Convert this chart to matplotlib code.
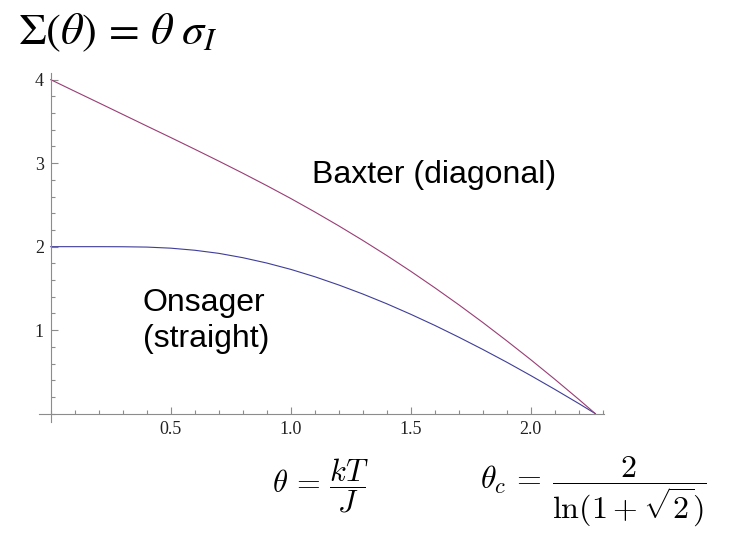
import matplotlib.pyplot as plt
from matplotlib.ticker import MultipleLocator

# values
theta = [0.0, 0.1, 0.2, 0.3, 0.4, 0.5, 0.6, 0.7, 0.8, 0.9, 1.0, 1.1,
         1.2, 1.3, 1.4, 1.5, 1.6, 1.7, 1.8, 1.9, 2.0, 2.1, 2.2, 2.269]
onsager = [2.0, 2.0, 2.0, 1.999, 1.995, 1.982, 1.957, 1.920, 1.868, 1.804,
           1.728, 1.640, 1.541, 1.433, 1.316, 1.190, 1.057, 0.916, 0.769,
           0.616, 0.456, 0.291, 0.121, 0.0]
baxter = [4.0, 3.861, 3.723, 3.584, 3.445, 3.307, 3.167, 3.025, 2.880,
          2.731, 2.577, 2.416, 2.249, 2.075, 1.894, 1.705, 1.508, 1.304,
          1.092, 0.872, 0.646, 0.412, 0.171, 0.0]

xticks = [0.5, 1.0, 1.5, 2.0]
xticklabels = ["0.5", "1.0", "1.5", "2.0"]
yticks = [1, 2, 3, 4]
yticklabels = ["1", "2", "3", "4"]

W, H = 749, 550
fig = plt.figure(figsize=(W / 100, H / 100), dpi=100, facecolor="white")
# axes box in pixels: left 39, right 604, top 73, bottom 422
ax = fig.add_axes([39 / W, 1 - 422 / H, (604 - 39) / W, (422 - 73) / H])

ax.plot(theta, onsager, color="#3f3d99", lw=0.8)
ax.plot(theta, baxter, color="#993d74", lw=0.8)

ax.set_xlim(-0.049, 2.305)
ax.set_ylim(-0.1, 4.08)

for side in ("top", "right"):
    ax.spines[side].set_visible(False)
for side in ("left", "bottom"):
    ax.spines[side].set_position(("data", 0))
    ax.spines[side].set_color("#8c8c8c")
    ax.spines[side].set_linewidth(0.8)

ax.set_xticks(xticks)
ax.set_xticklabels(xticklabels)
ax.set_yticks(yticks)
ax.set_yticklabels(yticklabels)
ax.xaxis.set_minor_locator(MultipleLocator(0.1))
ax.yaxis.set_minor_locator(MultipleLocator(0.2))
ax.tick_params(which="both", direction="in", color="#8c8c8c", width=0.8)
ax.tick_params(which="major", length=5, pad=5, labelsize=13)
ax.tick_params(which="minor", length=3)
for lab in ax.get_xticklabels() + ax.get_yticklabels():
    lab.set_family("Liberation Serif")
    lab.set_color("#222222")

# curve labels
ax.text(312 / W, 1 - 183 / H, "Baxter (diagonal)", transform=fig.transFigure,
        family="Liberation Sans", fontsize=23, ha="left", va="baseline")
ax.text(143 / W, 1 - 347 / H, "Onsager\n(straight)", transform=fig.transFigure,
        family="Liberation Sans", fontsize=23, ha="left", va="baseline",
        linespacing=1.25)

# formulas
fig.text(18 / W, 1 - 32 / H, r"$\Sigma(\theta)\,=\,\theta\;\sigma_I$",
         fontsize=32, math_fontfamily="stix", ha="left", va="center")
fig.text(272 / W, 1 - 486 / H, r"$\theta\,=\,\dfrac{kT}{J}$",
         fontsize=22, math_fontfamily="cm", ha="left", va="center")
fig.text(480 / W, 1 - 492 / H, r"$\theta_c\,=\,\dfrac{2}{\ln(1+\sqrt{2})}$",
         fontsize=23, math_fontfamily="cm", ha="left", va="center")

fig.savefig("out.png", dpi=100)
